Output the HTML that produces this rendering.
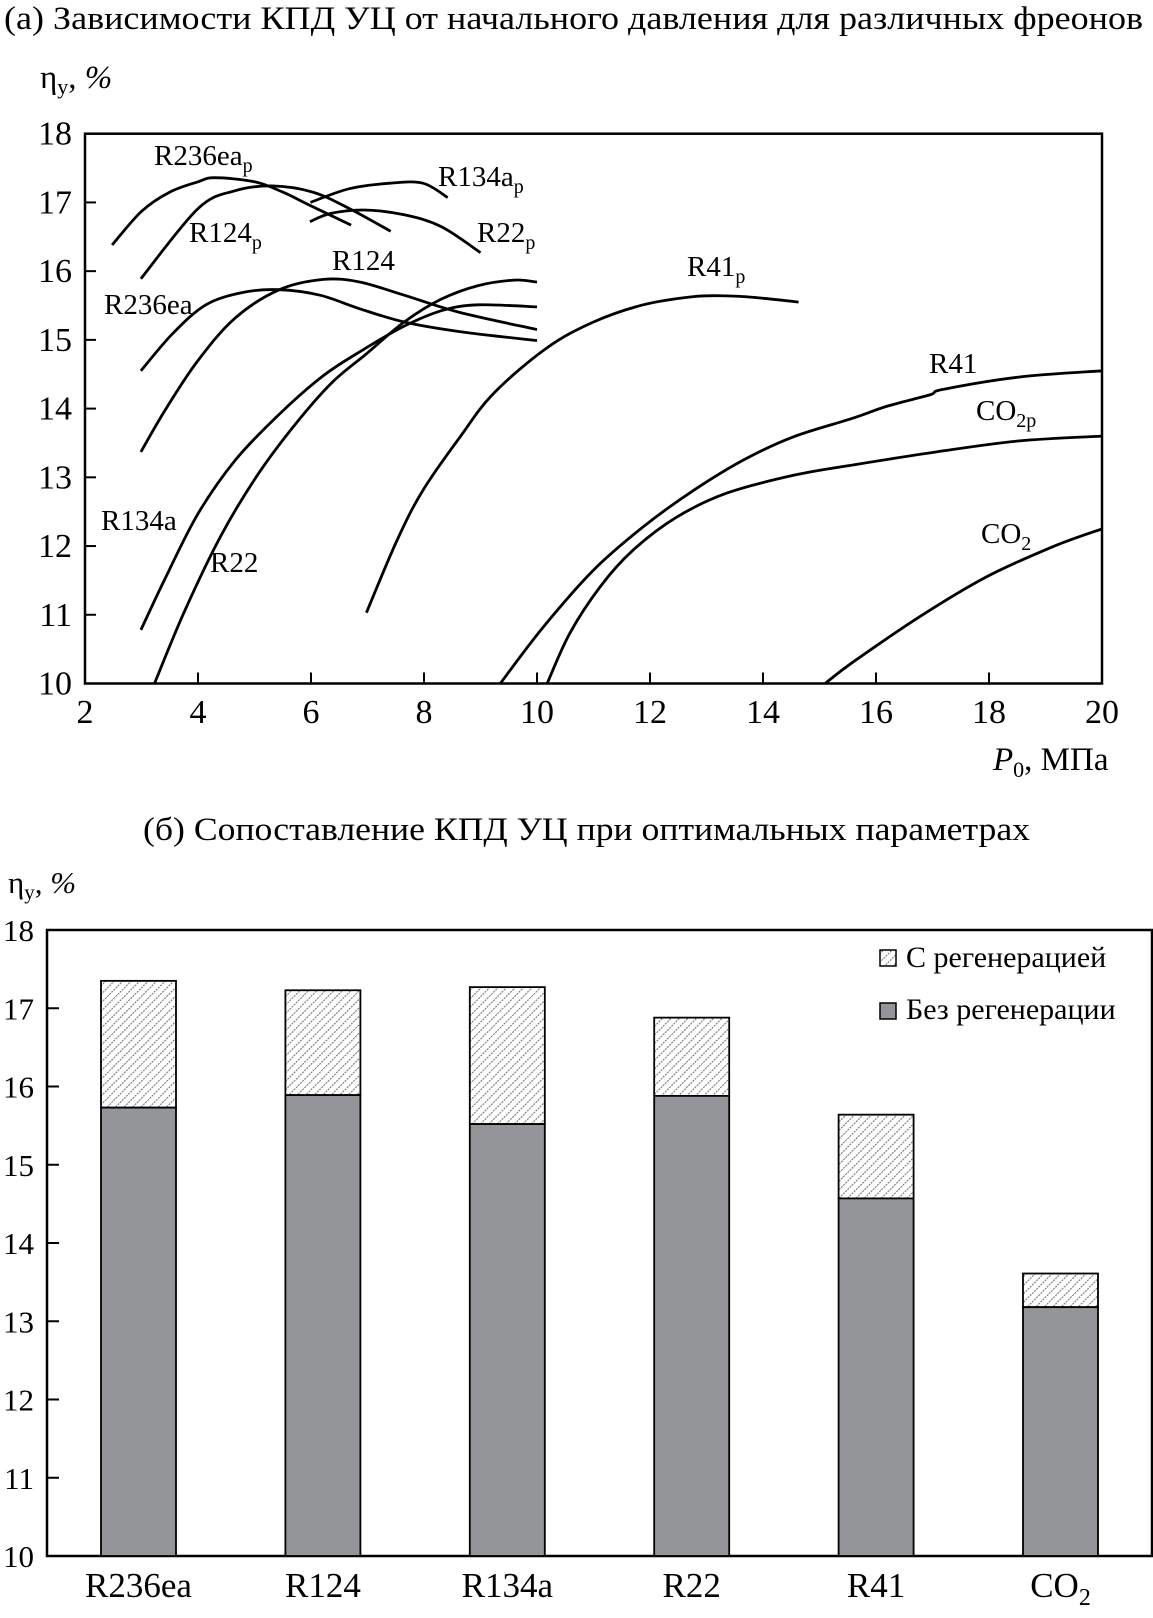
<!DOCTYPE html>
<html><head><meta charset="utf-8"><style>
html,body{margin:0;padding:0;background:#fff;}
svg{display:block;font-family:"Liberation Serif","DejaVu Serif",serif;}
</style></head><body>
<svg id="fig" width="1153" height="1618" viewBox="0 0 1153 1618" xmlns="http://www.w3.org/2000/svg">
<defs>
<pattern id="hatch" patternUnits="userSpaceOnUse" width="6" height="6" patternTransform="rotate(45)">
<rect width="6" height="6" fill="#fff"/>
<line x1="0" y1="0" x2="0" y2="6" stroke="#777" stroke-width="2.2" stroke-dasharray="2 1"/>
</pattern>
</defs>
<text x="4" y="29" font-size="33" textLength="1139" lengthAdjust="spacingAndGlyphs">(а) Зависимости КПД УЦ от начального давления для различных фреонов</text>
<g id="chartA"></g>
<text x="143" y="840" font-size="33" textLength="887" lengthAdjust="spacingAndGlyphs">(б) Сопоставление КПД УЦ при оптимальных параметрах</text>
<g id="chartB"></g>
</svg>
<script>
// ---------- Chart A data ----------
const xTicksA = [2,4,6,8,10,12,14,16,18,20];
const yTicksA = [10,11,12,13,14,15,16,17,18];
const seriesNames = ["R236ea_p","R124_p","R134a_p","R22_p","R236ea","R124","R134a","R22","R41_p","R41","CO2_p","CO2"];
const sR236eaP_x = [2.48,3.0,3.5,4.0,4.3,5.0,5.5,6.0,6.71];
const sR236eaP_y = [16.38,16.87,17.15,17.3,17.36,17.3,17.15,16.95,16.67];
const sR124P_x = [2.99,4.0,4.66,5.31,6.03,6.68,7.41];
const sR124P_y = [15.89,16.91,17.17,17.24,17.15,16.91,16.58];
const sR134aP_x = [5.99,6.68,7.4,7.98,8.42];
const sR134aP_y = [17.0,17.2,17.28,17.28,17.07];
const sR22P_x = [5.98,6.35,6.94,7.65,8.3,9.0];
const sR22P_y = [16.72,16.84,16.89,16.82,16.65,16.27];
const sR236ea_x = [2.99,3.55,4.14,4.79,5.44,6.16,6.87,7.65,8.63,10.0];
const sR236ea_y = [14.55,15.09,15.51,15.69,15.73,15.65,15.45,15.26,15.12,14.99];
const sR124_x = [2.99,3.42,4.0,4.66,5.44,6.22,6.87,7.65,8.63,10.0];
const sR124_y = [13.37,13.98,14.7,15.32,15.73,15.88,15.84,15.65,15.4,15.15];
const sR134a_x = [2.99,3.42,4.0,4.66,5.44,6.22,6.95,7.65,8.33,8.96,10.0];
const sR134a_y = [10.78,11.53,12.47,13.25,13.92,14.48,14.87,15.2,15.43,15.51,15.48];
const sR22_x = [3.23,3.75,4.4,5.05,5.71,6.36,7.0,7.65,8.3,8.96,9.6,10.0];
const sR22_y = [10.0,11.03,12.14,13.03,13.76,14.37,14.81,15.26,15.59,15.79,15.87,15.84];
const sR41P_x = [6.98,7.52,7.98,8.64,9.23,10.17,11.0,11.88,12.77,13.36,13.95,14.63];
const sR41P_y = [11.03,12.08,12.81,13.59,14.22,14.88,15.26,15.51,15.63,15.64,15.61,15.55];
const sR41_x = [9.35,10.11,11.0,11.88,12.77,13.65,14.54,15.59,16.18,16.95,17.19,18.54,20.0];
const sR41_y = [10.0,10.82,11.65,12.28,12.81,13.25,13.59,13.86,14.03,14.2,14.28,14.46,14.55];
const sCO2P_x = [10.18,10.58,11.12,11.7,12.47,13.36,14.54,15.59,17.07,18.54,20.0];
const sCO2P_y = [10.0,10.73,11.41,11.94,12.42,12.77,13.03,13.18,13.37,13.53,13.6];
const sCO2_x = [15.1,15.59,16.77,17.95,19.13,20.0];
const sCO2_y = [10.0,10.31,10.97,11.55,11.99,12.25];

// ---------- Chart B data ----------
const categoriesB = ["R236ea","R124","R134a","R22","R41","CO2"];
const valuesNoRegen = [15.73,15.89,15.52,15.88,14.57,13.18];
const valuesRegen = [17.35,17.23,17.27,16.88,15.64,13.61];
const yTicksB = [10,11,12,13,14,15,16,17,18];

const NS = "http://www.w3.org/2000/svg";
function mk(tag, attrs, parent, txt){
  const e = document.createElementNS(NS, tag);
  for (const k in attrs) e.setAttribute(k, attrs[k]);
  if (txt !== undefined) e.textContent = txt;
  parent.appendChild(e);
  return e;
}

// ===== Chart A =====
const gA = document.getElementById("chartA");
const A = {l:85, r:1102, t:133.7, b:683.5, x0:2, x1:20, y0:10, y1:18};
const xA = v => A.l + (v - A.x0) / (A.x1 - A.x0) * (A.r - A.l);
const yA = v => A.b - (v - A.y0) / (A.y1 - A.y0) * (A.b - A.t);

const frameA = mk("rect", {x:A.l, y:A.t, width:A.r-A.l, height:A.b-A.t, fill:"none", stroke:"#000", "stroke-width":2.5}, gA);



xTicksA.forEach(v => {
  const x = xA(v);
  if (v !== A.x0 && v !== A.x1) {
    const t = mk("line", {x1:x, x2:x, y1:A.b, y2:A.b-11, stroke:"#000", "stroke-width":2}, gA);
    
    
  }
  const lb = mk("text", {x:x, y:723, "font-size":34, "text-anchor":"middle"}, gA, String(v));
  
  
});
yTicksA.forEach(v => {
  const y = yA(v);
  if (v !== A.y0 && v !== A.y1) {
    const t = mk("line", {x1:A.l, x2:A.l+11, y1:y, y2:y, stroke:"#000", "stroke-width":2}, gA);
    
    
  }
  const lb = mk("text", {x:72, y:y+11, "font-size":34, "text-anchor":"end"}, gA, String(v));
  
  
});

function smoothPath(xs, ys){
  const p = xs.map((x,i)=>[xA(x), yA(ys[i])]);
  let d = "M" + p[0][0].toFixed(1) + "," + p[0][1].toFixed(1);
  for (let i=0;i<p.length-1;i++){
    const p0 = p[i-1]||p[i], p1=p[i], p2=p[i+1], p3=p[i+2]||p2;
    const c1 = [p1[0]+(p2[0]-p0[0])/6, p1[1]+(p2[1]-p0[1])/6];
    const c2 = [p2[0]-(p3[0]-p1[0])/6, p2[1]-(p3[1]-p1[1])/6];
    d += " C"+c1.map(n=>n.toFixed(1)).join(",")+" "+c2.map(n=>n.toFixed(1)).join(",")+" "+p2[0].toFixed(1)+","+p2[1].toFixed(1);
  }
  return d;
}
const allX = [sR236eaP_x,sR124P_x,sR134aP_x,sR22P_x,sR236ea_x,sR124_x,sR134a_x,sR22_x,sR41P_x,sR41_x,sCO2P_x,sCO2_x];
const allY = [sR236eaP_y,sR124P_y,sR134aP_y,sR22P_y,sR236ea_y,sR124_y,sR134a_y,sR22_y,sR41P_y,sR41_y,sCO2P_y,sCO2_y];
allX.forEach((xs, i) => {
  const path = mk("path", {d:smoothPath(xs, allY[i]), fill:"none", stroke:"#000", "stroke-width":2.8, "stroke-linejoin":"round"}, gA);
  
  
});
</script>
<script>
(function(){
  const gA = document.getElementById("chartA");
  const html = `
<text x="154" y="165" font-size="29">R236ea<tspan font-size="20" dy="7">p</tspan></text>
<text x="189" y="242" font-size="29">R124<tspan font-size="20" dy="7">p</tspan></text>
<text x="438" y="186" font-size="29">R134a<tspan font-size="20" dy="7">p</tspan></text>
<text x="477" y="242" font-size="29">R22<tspan font-size="20" dy="7">p</tspan></text>
<text x="332" y="270" font-size="29">R124</text>
<text x="104" y="314" font-size="29">R236ea</text>
<text x="101" y="530" font-size="29">R134a</text>
<text x="210" y="572" font-size="29">R22</text>
<text x="687" y="276" font-size="29">R41<tspan font-size="20" dy="7">p</tspan></text>
<text x="929" y="373" font-size="29">R41</text>
<text x="976" y="420" font-size="29">CO<tspan font-size="20" dy="7">2p</tspan></text>
<text x="981" y="543" font-size="29">CO<tspan font-size="20" dy="7">2</tspan></text>
<text x="40" y="88" font-size="33">η<tspan font-size="22" dy="6">y</tspan><tspan dy="-6">, </tspan><tspan font-style="italic">%</tspan></text>
<text x="993" y="770" font-size="33"><tspan font-style="italic">P</tspan><tspan font-size="22" dy="7">0</tspan><tspan dy="-7">, МПа</tspan></text>`;
  gA.insertAdjacentHTML("beforeend", html);
})();
</script>
<script>
(function(){
const gB = document.getElementById("chartB");
const B = {l:47, r:1152, t:930, b:1556, y0:10, y1:18};
const yB = v => B.b - (v - B.y0) / (B.y1 - B.y0) * (B.b - B.t);
const step = 184.4, firstC = 138.5, bw = 75;
const xB = i => firstC + i * step;

const fr = mk("rect", {x:B.l, y:B.t, width:B.r-B.l, height:B.b-B.t, fill:"none", stroke:"#000", "stroke-width":2.5}, gB);



yTicksB.forEach(v => {
  const y = yB(v);
  if (v !== B.y0 && v !== B.y1) {
    const t = mk("line", {x1:B.l, x2:B.l+12, y1:y, y2:y, stroke:"#000", "stroke-width":2}, gB);
    
    
  }
  const lb = mk("text", {x:34, y:y+11, "font-size":31, "text-anchor":"end"}, gB, String(v));
  
  
});

categoriesB.forEach((c, i) => {
  const cx = xB(i);
  const top = mk("rect", {x:cx-bw/2, y:yB(valuesRegen[i]), width:bw, height:yB(valuesNoRegen[i])-yB(valuesRegen[i]), fill:"url(#hatch)", stroke:"#000", "stroke-width":1.8}, gB);
  
  
  const base = mk("rect", {x:cx-bw/2, y:yB(valuesNoRegen[i]), width:bw, height:B.b-yB(valuesNoRegen[i]), fill:"#939598", stroke:"#000", "stroke-width":1.8}, gB);
  
  
  const lb = mk("text", {x:cx, y:1597, "font-size":35, "text-anchor":"middle"}, gB);
  
  
  if (c === "CO2") {
    lb.textContent = "CO";
    mk("tspan", {"font-size":24, dy:8}, lb, "2");
  } else lb.textContent = c;
});

gB.insertAdjacentHTML("beforeend", `
<text x="8" y="893" font-size="31">η<tspan font-size="21" dy="6">y</tspan><tspan dy="-6">, </tspan><tspan font-style="italic">%</tspan></text>
<g>
<g><rect x="880" y="950" width="16" height="16" fill="url(#hatch)" stroke="#000" stroke-width="1.5"/><text x="906" y="967" font-size="30">С регенерацией</text></g>
<g><rect x="880" y="1003" width="16" height="16" fill="#939598" stroke="#000" stroke-width="1.5"/><text x="906" y="1019" font-size="30">Без регенерации</text></g>
</g>`);
})();
</script>
</body></html>
